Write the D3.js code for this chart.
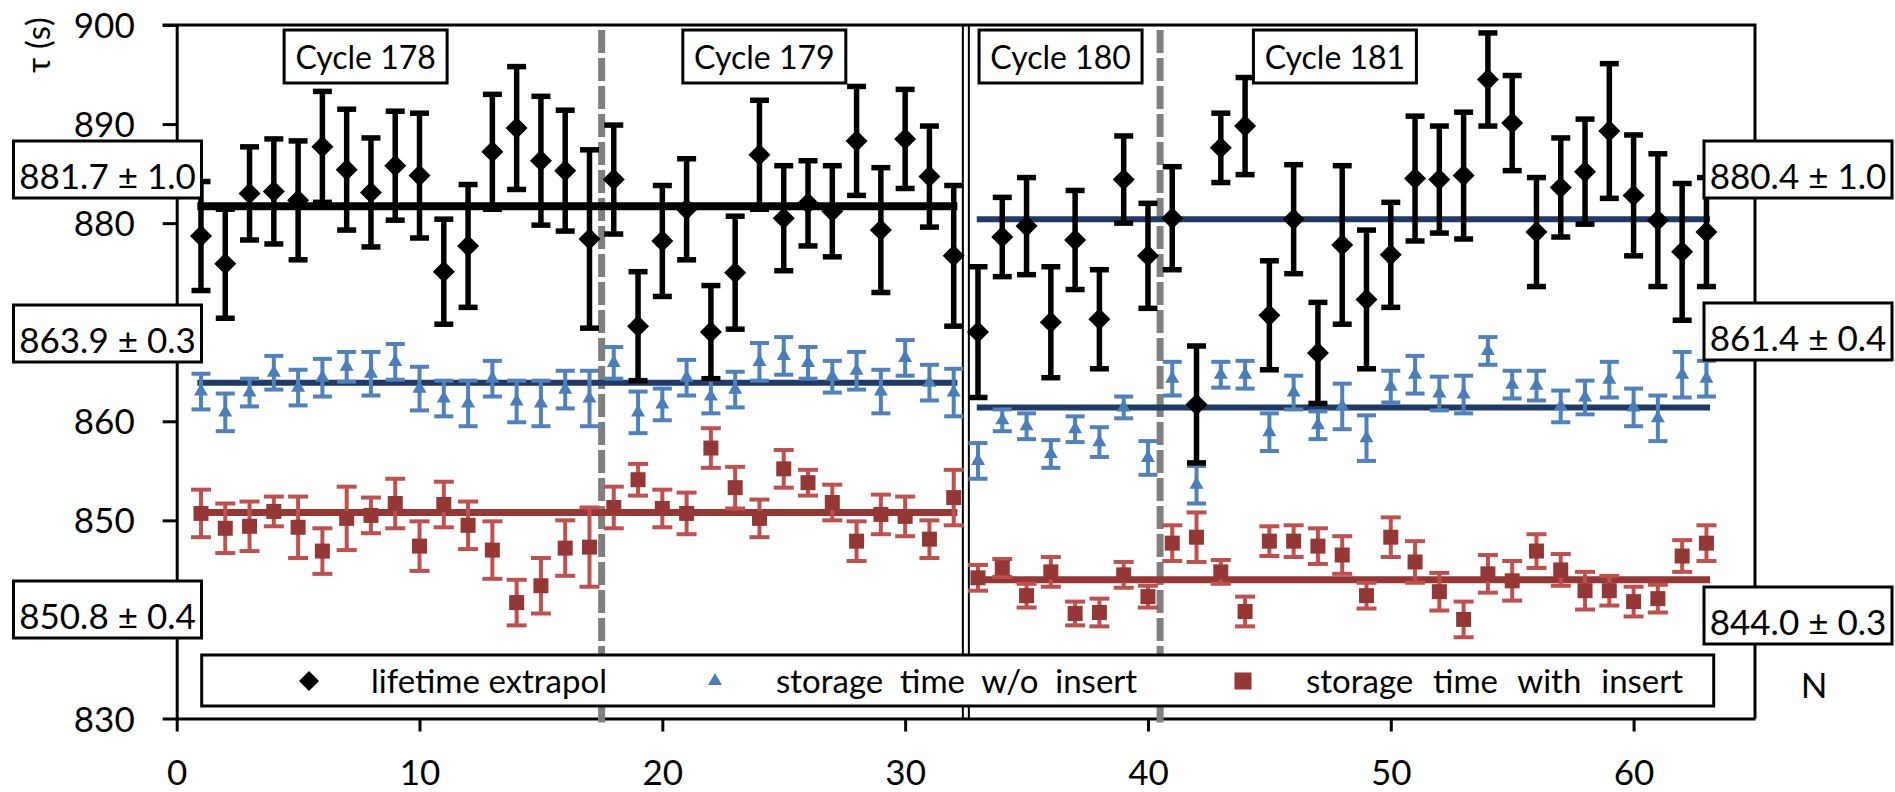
<!DOCTYPE html>
<html>
<head>
<meta charset="utf-8">
<script src="https://cdn.jsdelivr.net/npm/d3@7"></script>
<style>
    body { margin: 0; background: #fff; }
    text { font-family: Lato, "DejaVu Sans", sans-serif; fill: #000; }
</style>
</head>
<body>
<svg id="chart" width="1895" height="792"></svg>
<script>
/*------------------------ data -------------------------*/
// run number N
const runs = d3.range(1, 64);

// lifetime extrapol (s) and its error
const lifetime = [
    878.7, 875.9, 883.0, 883.2, 882.3, 887.7, 885.4, 883.1, 885.8, 884.8,
    875.1, 877.7, 887.2, 889.6, 886.3, 885.3, 878.4, 884.4, 869.6, 878.2,
    881.4, 869.0, 875.0, 886.9, 880.5, 882.0, 881.2, 888.3, 879.3, 888.5,
    884.7, 876.7, 869.0, 878.6, 879.7, 870.0, 878.3, 870.3, 884.4, 876.7,
    880.5, 861.7, 887.6, 889.8, 870.7, 880.4, 866.9, 877.8, 872.3, 876.8,
    884.5, 884.4, 884.8, 894.5, 890.1, 879.1, 883.6, 885.2, 889.3, 882.8,
    880.3, 877.1, 879.1
];
const lifetimeErr = [
    5.5, 5.5, 4.7, 5.3, 6.0, 5.6, 6.1, 5.5, 5.5, 6.3,
    5.3, 6.2, 5.8, 6.2, 6.5, 6.1, 9.0, 5.5, 5.5, 5.6,
    5.1, 4.7, 5.7, 5.5, 5.3, 4.3, 4.6, 5.5, 6.3, 5.0,
    5.1, 7.1, 6.6, 4.0, 4.9, 5.6, 5.0, 5.0, 4.4, 5.3,
    5.2, 5.9, 3.5, 4.9, 5.5, 5.5, 5.1, 8.0, 7.0, 5.3,
    6.3, 5.4, 6.4, 4.7, 4.8, 5.5, 5.0, 5.3, 6.8, 6.1,
    6.7, 6.9, 5.5
];

// storage time w/o insert
const storageNoIns = [
    863.0, 860.9, 862.9, 864.9, 863.4, 864.4, 865.5, 864.8, 866.0, 863.3,
    862.3, 861.8, 864.3, 862.0, 861.8, 863.2, 862.3, 865.9, 860.9, 861.7,
    864.4, 862.5, 863.2, 866.0, 866.6, 865.9, 864.5, 865.1, 863.0, 866.4,
    863.9, 862.9, 856.0, 860.1, 859.5, 856.7, 859.2, 857.9, 861.4, 856.3,
    864.3, 853.6, 864.7, 864.7, 858.9, 862.9, 859.6, 861.5, 858.3, 863.5,
    864.7, 862.8, 862.7, 867.1, 863.7, 863.6, 861.5, 862.4, 864.2, 861.4,
    860.3, 864.7, 864.3
];
const storageNoInsErr = [
    1.8, 1.9, 1.4, 1.7, 1.8, 1.9, 1.5, 2.2, 1.8, 2.2,
    1.8, 2.3, 1.8, 2.1, 2.3, 1.9, 2.8, 1.6, 2.1, 1.6,
    1.8, 1.7, 1.8, 1.9, 1.9, 1.6, 1.6, 1.9, 2.2, 1.8,
    1.8, 2.4, 1.8, 1.1, 1.3, 1.4, 1.3, 1.5, 1.1, 1.7,
    1.7, 1.9, 1.3, 1.4, 1.9, 1.7, 1.4, 2.3, 2.3, 1.6,
    1.9, 1.7, 1.9, 1.4, 1.4, 1.5, 1.6, 1.7, 1.8, 1.9,
    2.3, 2.3, 1.8
];

// storage time with insert
const storageIns = [
    850.7, 849.2, 849.4, 850.9, 849.3, 846.9, 850.2, 850.5, 851.7, 847.4,
    851.6, 849.5, 847.0, 841.7, 843.4, 847.2, 847.3, 851.3, 854.1, 851.2,
    850.7, 857.3, 853.3, 850.2, 855.2, 853.8, 851.8, 847.9, 850.6, 850.4,
    848.1, 852.3, 844.2, 845.2, 842.4, 844.8, 840.6, 840.7, 844.5, 842.3,
    847.7, 848.3, 844.8, 840.8, 847.9, 847.9, 847.4, 846.5, 842.4, 848.3,
    845.8, 842.8, 840.0, 844.6, 843.9, 846.9, 845.0, 842.9, 842.9, 841.8,
    842.1, 846.4, 847.7
];
const storageInsErr = [
    2.4, 2.5, 2.5, 1.5, 3.1, 2.3, 3.2, 1.8, 2.5, 2.5,
    2.3, 2.4, 2.9, 2.3, 2.8, 2.8, 4.0, 2.1, 1.6, 1.9,
    2.1, 2.0, 2.1, 1.9, 1.9, 1.3, 1.8, 2.0, 2.0, 2.0,
    1.9, 2.8, 1.3, 0.9, 1.2, 1.5, 1.2, 1.4, 1.3, 1.1,
    1.8, 2.5, 1.2, 1.5, 1.5, 1.6, 1.8, 1.9, 1.3, 2.0,
    2.1, 1.9, 1.8, 1.9, 2.0, 1.7, 1.6, 1.9, 1.5, 1.5,
    1.4, 1.6, 1.8
];

// fitted means for the two blocks (cycles 178-179, cycles 180-181)
const fitRange = [[0.85, 32.15], [32.95, 63.15]];
const fitLifetime = [881.7, 880.4];
const fitNoIns = [863.9, 861.4];
const fitIns = [850.8, 844.0];
const fitLabels = [
    ["881.7 ± 1.0", "863.9 ± 0.3", "850.8 ± 0.4"],
    ["880.4 ± 1.0", "861.4 ± 0.4", "844.0 ± 0.3"]
];

const cycles = ["Cycle 178", "Cycle 179", "Cycle 180", "Cycle 181"];
const cycleBreaks = [17.5, 40.5];
const blockBreak = 32.5;

const xTicks = [0, 10, 20, 30, 40, 50, 60];
const yTicks = [830, 840, 850, 860, 870, 880, 890, 900];
// 840 and 870 sit under the value boxes
const yTickLabels = [830, 850, 860, 880, 890, 900];
const legendNames = ["lifetime extrapol", "storage  time  w/o  insert", "storage  time  with  insert"];

/*----------------------- layout ------------------------*/
const plot = { left: 176.7, right: 1755, top: 25, bottom: 718.5 };
const FONT = 'Lato, "DejaVu Sans", sans-serif';
const navy = "#1f3a66";
const blue = "#4f81bd";
const lightRed = "#c0504d";
const darkRed = "#953735";

const svg = d3.select("#chart");
svg.append("rect").attr("width", 1895).attr("height", 792).attr("fill", "#fff");

const xScale = d3.scaleLinear().domain([0, 65]).range([plot.left, plot.right]);
const yScale = d3.scaleLinear().domain([830, 900]).range([plot.bottom, plot.top]);

// frame (top + right)
svg.append("path")
    .attr("d", `M${plot.left - 14},${plot.top}H${plot.right}V${plot.bottom}`)
    .attr("fill", "none")
    .attr("stroke", "#000")
    .attr("stroke-width", 3);

// axes
const yAxis = svg.append("g")
    .attr("transform", `translate(${plot.left},0)`)
    .call(d3.axisLeft(yScale).tickValues(yTicks).tickSize(14).tickSizeOuter(0).tickPadding(28)
        .tickFormat(d => yTickLabels.includes(d) ? d : ""))
    .attr("font-size", 35)
    .attr("font-family", FONT);

const xAxis = svg.append("g")
    .attr("transform", `translate(0,${plot.bottom})`)
    .call(d3.axisBottom(xScale).tickValues(xTicks).tickSize(13).tickSizeOuter(0).tickPadding(29))
    .attr("font-size", 35)
    .attr("font-family", FONT);

[yAxis, xAxis].forEach(a => {
    a.select(".domain").attr("stroke-width", 3);
    a.selectAll(".tick line").attr("stroke-width", 3);
    a.selectAll(".tick text").attr("fill", "#000");
});
yAxis.selectAll(".tick text").attr("dy", "0.36em");

// cycle separators
svg.selectAll(".cycleBreak")
    .data(cycleBreaks)
    .enter()
    .append("line")
    .attr("class", "cycleBreak")
    .attr("x1", d => xScale(d))
    .attr("x2", d => xScale(d))
    .attr("y1", plot.top + 5)
    .attr("y2", plot.bottom + 4)
    .attr("stroke", "#808080")
    .attr("stroke-width", 7)
    .attr("stroke-dasharray", "23 5");

[-3, 3].forEach(off => {
    svg.append("line")
        .attr("x1", xScale(blockBreak) + off)
        .attr("x2", xScale(blockBreak) + off)
        .attr("y1", plot.top)
        .attr("y2", plot.bottom)
        .attr("stroke", "#000")
        .attr("stroke-width", 2);
});

// fitted means
const fitColors = [["#000", navy, darkRed], [navy, navy, darkRed]];
const fitWidths = [[8, 6, 7], [6, 6, 7]];
fitRange.forEach((r, b) => {
    [fitLifetime[b], fitNoIns[b], fitIns[b]].forEach((v, k) => {
        svg.append("line")
            .attr("x1", xScale(r[0]))
            .attr("x2", xScale(r[1]))
            .attr("y1", yScale(v))
            .attr("y2", yScale(v))
            .attr("stroke", fitColors[b][k])
            .attr("stroke-width", fitWidths[b][k]);
    });
});

function errorBars(vals, errs, color, capW, sw) {
    const pts = runs.map((n, i) => ({ n: n, v: vals[i], e: errs[i] }));
    const g = svg.append("g").attr("stroke", color).attr("stroke-width", sw);
    const bar = g.selectAll("g").data(pts).enter().append("g");
    bar.append("line")
        .attr("x1", d => xScale(d.n)).attr("x2", d => xScale(d.n))
        .attr("y1", d => yScale(d.v + d.e)).attr("y2", d => yScale(d.v - d.e));
    [1, -1].forEach(s => {
        bar.append("line")
            .attr("x1", d => xScale(d.n) - capW / 2).attr("x2", d => xScale(d.n) + capW / 2)
            .attr("y1", d => yScale(d.v + s * d.e)).attr("y2", d => yScale(d.v + s * d.e));
    });
    return pts;
}

function markers(pts, symbol, color, rot) {
    svg.append("g")
        .selectAll("path")
        .data(pts)
        .enter()
        .append("path")
        .attr("d", symbol)
        .attr("fill", color)
        .attr("transform", d => `translate(${xScale(d.n)},${yScale(d.v)}) rotate(${rot})`);
}

const diamond = d3.symbol(d3.symbolSquare, 242)();
const triangle = d3.symbol(d3.symbolTriangle, 85)();
const square = d3.symbol(d3.symbolSquare, 225)();

const insPts = errorBars(storageIns, storageInsErr, lightRed, 20, 4);
markers(insPts, square, darkRed, 0);
const noInsPts = errorBars(storageNoIns, storageNoInsErr, blue, 19, 4);
markers(noInsPts, triangle, "#4a7ebb", 0);
const lifePts = errorBars(lifetime, lifetimeErr, "#000", 19, 5.5);
markers(lifePts, diamond, "#000", 45);

// cycle labels
const cycleAt = [7.78, 24.2, 36.4, 47.7];
const cycleG = svg.selectAll(".cycle")
    .data(cycles)
    .enter()
    .append("g")
    .attr("class", "cycle")
    .attr("transform", (d, i) => `translate(${xScale(cycleAt[i])},30)`);
cycleG.append("rect")
    .attr("x", -81.5).attr("y", 0).attr("width", 163).attr("height", 53)
    .attr("fill", "#fff").attr("stroke", "#000").attr("stroke-width", 3);
cycleG.append("text")
    .attr("y", 38.5)
    .attr("text-anchor", "middle")
    .attr("font-size", 32)
    .text(d => d);

// value boxes
const boxLeft = [13.5, 1704];
const boxTops = [[141, 305, 581], [141, 303, 587]];
fitLabels.forEach((labels, b) => {
    labels.forEach((t, k) => {
        const g = svg.append("g").attr("transform", `translate(${boxLeft[b]},${boxTops[b][k]})`);
        g.append("rect")
            .attr("width", 188).attr("height", 57)
            .attr("fill", "#fff").attr("stroke", "#000").attr("stroke-width", 3);
        g.append("text")
            .attr("x", 94).attr("y", 48)
            .attr("text-anchor", "middle")
            .attr("font-size", 35)
            .text(t);
    });
});

// axis titles
svg.append("text")
    .attr("transform", "translate(50,45) rotate(-90)")
    .attr("text-anchor", "middle")
    .attr("font-size", 33)
    .text("τ (s)");

svg.append("text")
    .attr("x", 1814).attr("y", 697.5)
    .attr("text-anchor", "middle")
    .attr("font-size", 35)
    .text("N");

// legend
const legend = svg.append("g");
legend.append("rect")
    .attr("x", 201.7).attr("y", 655).attr("width", 1512).attr("height", 51)
    .attr("fill", "#fff").attr("stroke", "#000").attr("stroke-width", 3);
const legMarkX = [309, 715, 1243];
const legTextX = [371, 776, 1306];
const legSpacing = [0, 0, 1.5];
const legSym = [
    { d: d3.symbol(d3.symbolSquare, 200)(), c: "#000", r: 45 },
    { d: d3.symbol(d3.symbolTriangle, 85)(), c: "#4a7ebb", r: 0 },
    { d: d3.symbol(d3.symbolSquare, 290)(), c: darkRed, r: 0 }
];
legendNames.forEach((name, i) => {
    legend.append("path")
        .attr("d", legSym[i].d)
        .attr("fill", legSym[i].c)
        .attr("transform", `translate(${legMarkX[i]},681) rotate(${legSym[i].r})`);
    legend.append("text")
        .attr("x", legTextX[i]).attr("y", 693)
        .attr("font-size", 33)
        .style("white-space", "pre")
        .attr("word-spacing", legSpacing[i])
        .text(name);
});
</script>
</body>
</html>
